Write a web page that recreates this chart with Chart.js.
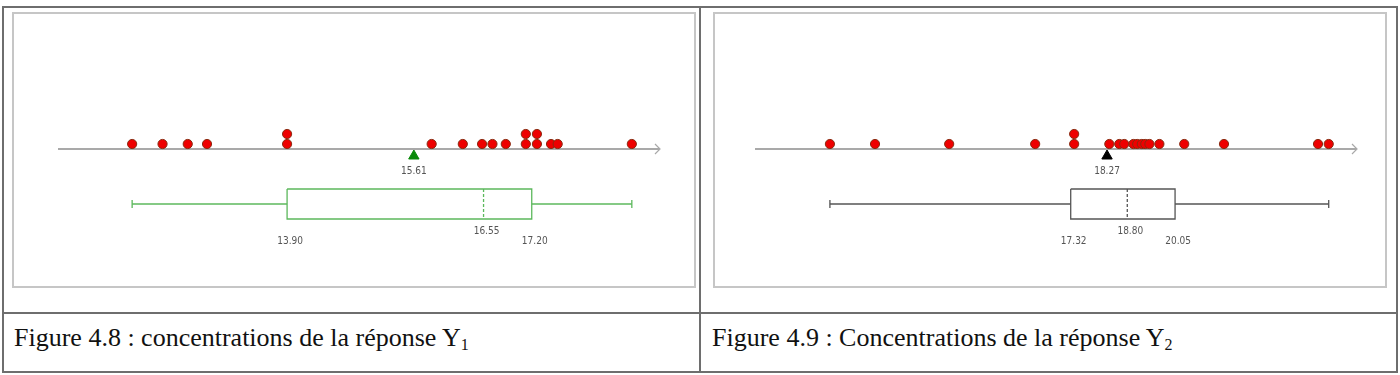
<!DOCTYPE html>
<html>
<head>
<meta charset="utf-8">
<script src="https://cdn.jsdelivr.net/npm/chart.js@4/dist/chart.umd.min.js"></script>
<style>
  html, body { margin: 0; padding: 0; background: #fff; }
  body { width: 1400px; height: 375px; position: relative; overflow: hidden; }
  .frame { position: absolute; box-sizing: border-box; }
  .outer { left: 2px; top: 6px; width: 1396px; height: 367px; border: 2px solid #6e6e6e; }
  .vsep { left: 699px; top: 6px; width: 2px; height: 367px; background: #6e6e6e; }
  .hsep { left: 2px; top: 312px; width: 1396px; height: 2px; background: #6e6e6e; }
  .panel { border: 2px solid #c6c6c6; }
  .cap { position: absolute; top: 325px; font-family: 'Liberation Serif', 'Times New Roman', serif;
         font-size: 26px; line-height: 26px; color: #111; white-space: nowrap; }
  .cap sub { font-size: 16px; vertical-align: -4px; line-height: 0; }
  canvas { position: absolute; }
</style>
</head>
<body>
<div class="frame outer"></div>
<div class="frame vsep"></div>
<div class="frame hsep"></div>
<div class="frame panel" style="left:12px;top:12px;width:684px;height:276px"></div>
<div class="frame panel" style="left:713px;top:12px;width:674px;height:276px"></div>
<canvas id="chartY1" width="683" height="275" style="left:12px;top:12px"></canvas>
<canvas id="chartY2" width="683" height="275" style="left:709px;top:12px"></canvas>
<div class="cap" style="left:14px">Figure 4.8 : concentrations de la réponse Y<sub>1</sub></div>
<div class="cap" style="left:712px">Figure 4.9 : Concentrations de la réponse Y<sub>2</sub></div>

<script>
// Données (concentrations)
const valeursY1 = [11.81, 12.22, 12.56, 12.82, 13.90, 13.90, 15.85, 16.27, 16.53,
                   16.67, 16.85, 17.12, 17.12, 17.27, 17.27, 17.46, 17.55, 18.55];
const valeursY2 = [11.02, 12.20, 14.14, 16.39, 17.41, 17.41, 18.33, 18.59, 18.72, 18.96,
                   19.06, 19.18, 19.27, 19.38, 19.64, 20.29, 21.33, 23.79, 24.07];

// Statistiques affichées : [Q1, médiane, Q3, moyenne]
const statsY1 = [13.90, 16.55, 17.20, 15.61];
const statsY2 = [17.32, 18.80, 20.05, 18.27];

// Étendue de l'axe horizontal
const axeY1 = [10.81, 18.93];
const axeY2 = [9.06, 24.81];

// Empiler les points de même valeur
function pointsEmpiles(valeurs) {
    const compte = {};
    return valeurs.map(v => {
        const k = v.toFixed(2);
        compte[k] = (compte[k] || 0);
        const p = { x: v, y: 0.5 + compte[k] };
        compte[k] += 1;
        return p;
    });
}

// Axe avec flèche + étiquettes des statistiques
const axeFlechePlugin = {
    id: 'axeFleche',
    beforeDatasetsDraw(chart) {
        const ctx = chart.ctx;
        const xs = chart.scales.x, ys = chart.scales.y;
        const y0 = ys.getPixelForValue(0);
        const xa = chart.chartArea.left, xb = chart.chartArea.right;
        ctx.save();
        ctx.strokeStyle = '#a9a9a9';
        ctx.lineWidth = 2;
        ctx.beginPath();
        ctx.moveTo(xa, y0);
        ctx.lineTo(xb - 1, y0);
        ctx.stroke();
        ctx.lineWidth = 1.2;
        ctx.beginPath();
        ctx.moveTo(xb - 5, y0 - 5);
        ctx.lineTo(xb, y0);
        ctx.lineTo(xb - 5, y0 + 5);
        ctx.stroke();
        ctx.restore();
    },
    afterDatasetsDraw(chart) {
        const opts = chart.options.plugins.axeFleche;
        const ctx = chart.ctx;
        const xs = chart.scales.x, ys = chart.scales.y;
        const s = opts.stats;
        ctx.save();
        ctx.font = '10px "Liberation Sans Narrow", "DejaVu Sans Condensed", "Liberation Sans", sans-serif';
        ctx.fillStyle = '#555';
        ctx.textAlign = 'center';
        ctx.textBaseline = 'middle';
        const lab = (v, yv) => ctx.fillText(v.toFixed(2), xs.getPixelForValue(v) + 3, ys.getPixelForValue(yv));
        lab(s[0], -9.2);
        lab(s[1], -8.2);
        lab(s[2], -9.2);
        ctx.fillText(s[3].toFixed(2), xs.getPixelForValue(s[3]), ys.getPixelForValue(-2.25));
        ctx.restore();
    }
};

function dessinerGraphique(canvasId, valeurs, stats, axe, couleurBoite, couleurMoyenne, padGauche) {
    const mn = Math.min(...valeurs), mx = Math.max(...valeurs);
    const [q1, med, q3, moy] = stats;
    const ligne = (pts, dash) => ({
        type: 'line', data: pts, borderColor: couleurBoite, borderWidth: 1.3,
        borderDash: dash || [], pointRadius: 0, fill: false, tension: 0, order: 5
    });
    return new Chart(document.getElementById(canvasId), {
        type: 'scatter',
        data: {
            datasets: [
                {
                    data: pointsEmpiles(valeurs),
                    backgroundColor: '#ee0000',
                    borderColor: '#8a2a10',
                    borderWidth: 1,
                    pointRadius: 4.6,
                    order: 1
                },
                {
                    data: [{ x: moy, y: -0.7 }],
                    pointStyle: 'triangle',
                    backgroundColor: couleurMoyenne,
                    borderColor: couleurMoyenne,
                    pointRadius: 6,
                    order: 1
                },
                // moustaches
                ligne([{ x: mn, y: -5.5 }, { x: q1, y: -5.5 }]),
                ligne([{ x: q3, y: -5.5 }, { x: mx, y: -5.5 }]),
                ligne([{ x: mn, y: -5.1 }, { x: mn, y: -5.9 }]),
                ligne([{ x: mx, y: -5.1 }, { x: mx, y: -5.9 }]),
                // boîte
                ligne([{ x: q1, y: -4 }, { x: q3, y: -4 }, { x: q3, y: -7 }, { x: q1, y: -7 }, { x: q1, y: -4 }]),
                // médiane
                ligne([{ x: med, y: -4 }, { x: med, y: -7 }], [3, 2])
            ]
        },
        options: {
            responsive: false,
            animation: false,
            layout: { padding: { left: padGauche, right: 683 - padGauche - 602, top: 112, bottom: 33 } },
            scales: {
                x: { type: 'linear', min: axe[0], max: axe[1], display: false },
                y: { type: 'linear', min: -10.5, max: 2.5, display: false }
            },
            plugins: {
                legend: { display: false },
                tooltip: { enabled: false },
                axeFleche: { stats: stats }
            }
        },
        plugins: [axeFlechePlugin]
    });
}

dessinerGraphique('chartY1', valeursY1, statsY1, axeY1, '#5cb85c', '#0a8a0a', 46);
dessinerGraphique('chartY2', valeursY2, statsY2, axeY2, '#555555', '#000000', 46);
</script>
</body>
</html>
